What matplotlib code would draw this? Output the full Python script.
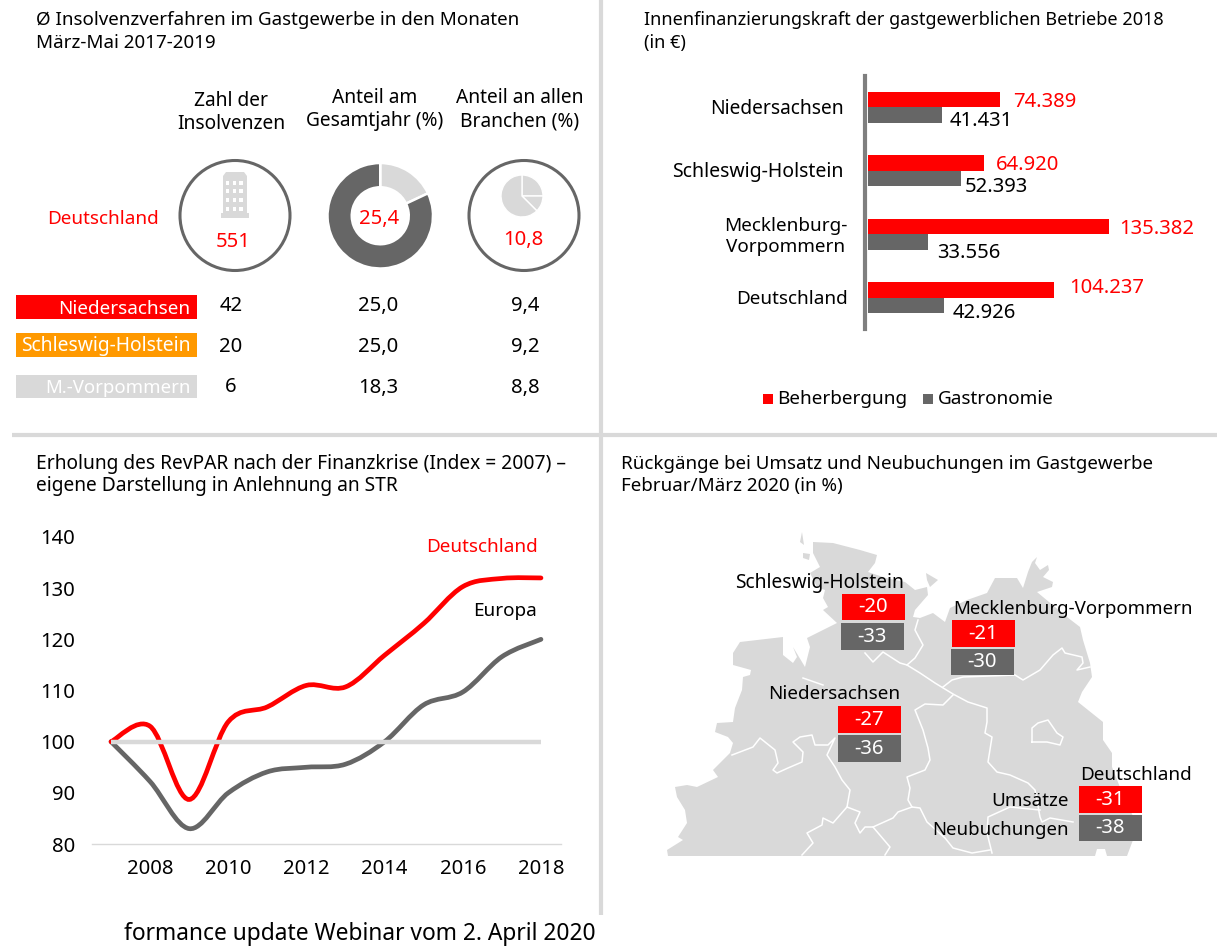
import numpy as np
import matplotlib
matplotlib.use("Agg")
import matplotlib.pyplot as plt
from matplotlib.patches import Rectangle, Circle, Polygon, PathPatch
from matplotlib.path import Path

plt.rcParams['font.family'] = ['Noto Sans', 'DejaVu Sans']

W, H = 1229, 949
RED = '#ff0000'
DARK = '#666666'
LIGHT = '#d9d9d9'
ORANGE = '#ff9900'
FS = 13.6
NUM = 14.6

# panel 1: insolvencies
header_1 = "Zahl der\nInsolvenzen"
header_2 = "Anteil am\nGesamtjahr (%)"
header_3 = "Anteil an allen\nBranchen (%)"
de_count = "551"
de_share_year = "25,4"
de_share_all = "10,8"
donut_shares = [18, 82]
pie_icon_shares = [25, 12.5, 62.5]
states = ["Niedersachsen", "Schleswig-Holstein", "M.-Vorpommern"]
state_colors = [RED, ORANGE, LIGHT]
counts = ["42", "20", "6"]
shares_year = ["25,0", "25,0", "18,3"]
shares_all = ["9,4", "9,2", "8,8"]

# panel 2: bars
bar_labels = ["Niedersachsen", "Schleswig-Holstein", "Mecklenburg-\nVorpommern", "Deutschland"]
beherbergung = [74389, 64920, 135382, 104237]
gastronomie = [41431, 52393, 33556, 42926]

# panel 3: RevPAR lines
years = [2007, 2008, 2009, 2010, 2011, 2012, 2013, 2014, 2015, 2016, 2017, 2018]
revpar_de = [100, 103, 88.7, 103.9, 106.8, 111, 110.7, 116.9, 123.1, 130.3, 131.9, 132]
revpar_eu = [100, 92.2, 83, 90, 94.1, 95, 95.6, 100, 107.2, 109.7, 116.6, 120]
baseline = [100] * 12

# panel 4: map boxes
map_regions = ["Schleswig-Holstein", "Mecklenburg-Vorpommern", "Niedersachsen", "Deutschland"]
umsatz = [-20, -21, -27, -31]
neubuchung = [-33, -30, -36, -38]

# map shape, traced in pixels
map_outline = [(813,542),(833,543),(860,550),(877,555),(875,563),(868,572),(886,578),(905,582),(915,590),(927,587),
    (928,595),(915,610),(913,617),(920,618),(933,613),(945,622),(950,608),(967,600),(987,593),(995,578),(1017,578),
    (1023,588),(1028,572),(1032,562),(1037,557),(1035,563),(1040,570),(1048,565),(1049,570),(1043,577),(1053,582),
    (1052,587),(1037,592),(1067,617),(1080,627),(1083,640),(1090,663),(1092,677),(1082,692),(1078,702),(1103,722),
    (1103,740),(1112,753),(1112,767),(1125,800),(1140,830),(1133,840),(1127,856),(1107,856),(1105,849),(1097,849),
    (1095,856),(668,856),(667,850),(683,840),(678,837),(687,823),(685,810),(677,797),(675,787),(687,785),(697,787),
    (718,777),(713,770),(730,753),(733,743),(728,737),(715,732),(717,723),(733,722),(735,708),(742,690),(743,677),
    (750,675),(751,670),(733,665),(733,653),(740,642),(783,637),(783,655),(793,663),(797,657),(793,647),(805,667),
    (810,647),(807,638),(837,623),(823,610),(828,607),(823,598),(825,590),(817,587),(810,573),(820,567),(813,553)]
map_islands = [
    [(926,573),(938,580),(930,587),(927,580)],
    [(802,532),(804,545),(800,542)],
    [(803,553),(810,554),(809,560),(803,558)],
]
map_borders = [
    [(865,653),(873,662),(883,652),(900,663),(907,665),(920,673),(935,683),(953,694),(968,702),(987,708),(987,722),
     (985,733),(992,737),(988,762),(997,772),(1010,775),(1028,783),(1035,790),(1040,817),(1042,822),(1050,818),(1073,822)],
    [(907,665),(915,658),(923,645),(915,630),(918,620)],
    [(943,687),(952,680),(963,677),(1015,675),(1023,680),(1040,670),(1053,655),(1062,648),(1065,653),(1082,657),
     (1083,663),(1077,670),(1090,667)],
    [(953,695),(943,705),(925,704),(915,710),(923,730),(928,748),(930,760),(925,770),(907,777),(910,788),(908,800),
     (912,807),(920,808),(927,822),(945,838),(953,848),(972,853),(990,850)],
    [(1040,810),(1010,807),(988,817),(987,833),(992,853)],
    [(912,807),(898,812),(893,818),(873,827),(865,827),(860,833),(855,823),(860,812),(847,807),(850,790),(842,780),
     (835,767),(827,755),(835,738),(828,745),(815,745),(812,735),(800,737),(793,742),(803,752),(802,762),(788,768),
     (777,773),(773,770),(778,763),(775,750),(760,738),(753,747),(732,755)],
    [(847,807),(833,823),(823,818),(822,825),(807,833),(813,843),(802,855)],
    [(873,827),(890,847),(885,855)],
    [(1032,742),(1032,728),(1038,723),(1048,720),(1057,733),(1063,737),(1060,745),(1047,742),(1032,742)],
    [(803,678),(823,685)],
]


def px_axes(left, top, right, bottom):
    return fig.add_axes([left / W, 1 - bottom / H, (right - left) / W, (bottom - top) / H])


def smooth_path(xs, ys):
    # same kind of curve as a smoothed office line chart
    pts = np.column_stack([xs, ys])
    verts = [pts[0]]
    codes = [Path.MOVETO]
    for i in range(len(pts) - 1):
        before = pts[max(i - 1, 0)]
        after = pts[min(i + 2, len(pts) - 1)]
        verts += [pts[i] + (pts[i + 1] - before) / 6, pts[i + 1] - (after - pts[i]) / 6, pts[i + 1]]
        codes += [Path.CURVE4] * 3
    return Path(verts, codes)


fig = plt.figure(figsize=(W / 100, H / 100), dpi=100)

# page layer in pixel coordinates
ov = fig.add_axes([0, 0, 1, 1])
ov.set_xlim(0, W)
ov.set_ylim(H, 0)
ov.axis('off')


def label(x, y, s, ha='left', color='black', size=FS, **kw):
    ov.text(x, y + 1.5, s, ha=ha, va='center', color=color, fontsize=size, **kw)


# dividers
ov.plot([601, 601], [0, 915], color=LIGHT, lw=3, solid_capstyle='butt')
ov.plot([12, 1217], [435, 435], color=LIGHT, lw=3, solid_capstyle='butt')

# titles
label(36, 18, "Ø Insolvenzverfahren im Gastgewerbe in den Monaten", size=13.5)
label(36, 41, "März-Mai 2017-2019", size=13.5)
label(644, 18, "Innenfinanzierungskraft der gastgewerblichen Betriebe 2018", size=13)
label(644, 41, "(in €)", size=13)
label(36, 462, "Erholung des RevPAR nach der Finanzkrise (Index = 2007) –", size=13.85)
label(36, 484, "eigene Darstellung in Anlehnung an STR", size=13.85)
label(621, 462, "Rückgänge bei Umsatz und Neubuchungen im Gastgewerbe", size=13.5)
label(621, 484, "Februar/März 2020 (in %)", size=13.5)
label(124, 932, "formance update Webinar vom 2. April 2020", size=16.4)

# panel 1 head
ov.text(231.5, 112.5, header_1, ha='center', va='center', fontsize=13.8, linespacing=1.2)
ov.text(375, 109.5, header_2, ha='center', va='center', fontsize=13.8, linespacing=1.2)
ov.text(520, 109.5, header_3, ha='center', va='center', fontsize=13.8, linespacing=1.2)
label(159, 217, "Deutschland", ha='right', color=RED, size=FS)

for cx in [235, 524]:
    ov.add_patch(Circle((cx, 215.5), 55, fc='white', ec=DARK, lw=2.2))

# building icon
ov.add_patch(Polygon([(223, 176), (226, 172), (244, 172), (247, 176), (247, 214), (223, 214)], fc=LIGHT, ec='none'))
ov.add_patch(Rectangle((221, 213), 28, 4.5, fc=LIGHT, ec='none'))
for wy in [183, 191, 200, 209]:
    for wx in [227.5, 234.5, 241]:
        ov.add_patch(Rectangle((wx - 1.7, wy - 1.7), 3.4, 3.4, fc='white', ec='none'))

label(233, 240, de_count, ha='center', color=RED, size=NUM)
label(523.5, 238, de_share_all, ha='center', color=RED, size=NUM)

# panel 1 table
row_bars = [(295, 319), (333, 357), (375, 398)]
row_text = [307, 345, 386.5]
row_vals = [304.7, 345.3, 386]
state_sizes = [13.6, 13.9, 13.4]
for i in range(3):
    top, bottom = row_bars[i]
    ov.add_patch(Rectangle((16, top), 181, bottom - top, fc=state_colors[i], ec='none'))
    label(190.5, row_text[i], states[i], ha='right', color='white', size=state_sizes[i])
    label(231, row_vals[i], counts[i], ha='center', size=NUM)
    label(378, row_vals[i], shares_year[i], ha='center', size=NUM)
    label(525, row_vals[i], shares_all[i], ha='center', size=NUM)

# donut
ax_d = px_axes(327.5, 163, 433, 268.5)
ax_d.pie(donut_shares, colors=[LIGHT, DARK], startangle=90, counterclock=False, radius=1,
         wedgeprops=dict(width=0.46, edgecolor='white', linewidth=1.8))
ax_d.set_xlim(-1, 1)
ax_d.set_ylim(-1, 1)
ax_d.text(-0.02, -0.06, de_share_year, ha='center', va='center', color=RED, fontsize=NUM)

# small pie icon
ax_i = px_axes(501, 175, 543, 217)
ax_i.pie(pie_icon_shares, colors=[LIGHT] * 3, startangle=90, counterclock=False, radius=1,
         wedgeprops=dict(edgecolor='white', linewidth=1))
ax_i.set_xlim(-1, 1)
ax_i.set_ylim(-1, 1)

# panel 2 bars
bar_left, bar_right = 868, 1200
ax_b = px_axes(bar_left, 75.7, bar_right, 329.3)
ax_b.patch.set_alpha(0)
pos = np.arange(4)
h = 0.242
ax_b.barh(pos - h / 2, beherbergung, height=h, color=RED)
ax_b.barh(pos + h / 2, gastronomie, height=h, color=DARK)
ax_b.set_xlim(0, (bar_right - bar_left) / 0.00178)
ax_b.set_ylim(3.5, -0.5)
ax_b.set_xticks([])
ax_b.set_yticks([])
for s in ['top', 'right', 'bottom']:
    ax_b.spines[s].set_visible(False)
ax_b.spines['left'].set_color('#7f7f7f')
ax_b.spines['left'].set_linewidth(3)
ax_b.spines['left'].set_position(('outward', 2))

label(844, 107.5, bar_labels[0], ha='right', size=13.8)
label(844, 170.5, bar_labels[1], ha='right', size=14)
ov.text(785.5, 236.5, bar_labels[2], ha='center', va='center', fontsize=13.6, linespacing=1.2)
label(848, 297.5, bar_labels[3], ha='right', size=13.6)

red_lab_x = [1013.5, 996, 1119, 1069.5]
red_lab_y = [100, 163.5, 227, 286.5]
dark_lab_x = [950, 964.5, 937.5, 952.5]
dark_lab_y = [119, 185.5, 251.5, 312]
for i in range(4):
    label(red_lab_x[i], red_lab_y[i], f"{beherbergung[i]:,}".replace(",", "."), color=RED, size=NUM)
    label(dark_lab_x[i], dark_lab_y[i], f"{gastronomie[i]:,}".replace(",", "."), size=NUM)

ov.add_patch(Rectangle((763, 394), 10, 10, fc=RED, ec='none'))
label(777.5, 398, "Beherbergung")
ov.add_patch(Rectangle((923, 394), 10, 10, fc=DARK, ec='none'))
label(938, 398, "Gastronomie")

# panel 3 lines
ax_l = px_axes(91.5, 537, 560.5, 844)
ax_l.patch.set_alpha(0)
ax_l.plot(years, baseline, color=LIGHT, lw=3.2, solid_capstyle='butt')
ax_l.add_patch(PathPatch(smooth_path(years, revpar_eu), fc='none', ec=DARK, lw=3.4, capstyle='round'))
ax_l.add_patch(PathPatch(smooth_path(years, revpar_de), fc='none', ec=RED, lw=3.4, capstyle='round'))
ax_l.set_xlim(2006.5, 2018.5)
ax_l.set_ylim(80, 140)
ax_l.set_xticks(years[1::2])
ax_l.set_yticks(range(80, 141, 10))
ax_l.tick_params(length=0, labelsize=NUM, pad=11)
ax_l.tick_params(axis='y', pad=12)
for s in ['top', 'right', 'left']:
    ax_l.spines[s].set_visible(False)
ax_l.spines['bottom'].set_color(LIGHT)
ax_l.spines['bottom'].set_linewidth(1)
label(538, 546, "Deutschland", ha='right', color=RED)
label(536.5, 609.5, "Europa", ha='right', size=13.6)

# panel 4 map
ov.add_patch(Polygon(map_outline, fc=LIGHT, ec='none', zorder=1))
for isl in map_islands:
    ov.add_patch(Polygon(isl, fc=LIGHT, ec='none', zorder=1))
for b in map_borders:
    ov.plot([p[0] for p in b], [p[1] for p in b], color='white', lw=1.1, zorder=2)

box_red_x = [842, 952, 838, 1079]
box_dark_x = [841, 951, 838, 1079]
box_red_y = [(594, 620), (620, 647), (706, 732.5), (786, 812.5)]
box_dark_y = [(623, 649.5), (649, 674.5), (735, 761.5), (815, 840.5)]
for i in range(4):
    top, bottom = box_red_y[i]
    ov.add_patch(Rectangle((box_red_x[i], top), 63, bottom - top, fc=RED, ec='none', zorder=3))
    ov.text(box_red_x[i] + 31, (top + bottom) / 2 + 0.5, str(umsatz[i]), color='white', ha='center', va='center', fontsize=NUM, zorder=4)
    top, bottom = box_dark_y[i]
    ov.add_patch(Rectangle((box_dark_x[i], top), 63, bottom - top, fc=DARK, ec='none', zorder=3))
    ov.text(box_dark_x[i] + 31, (top + bottom) / 2 + 0.5, str(neubuchung[i]), color='white', ha='center', va='center', fontsize=NUM, zorder=4)

label(904, 581.5, map_regions[0], ha='right', zorder=4, size=13.8)
label(953.5, 607.5, map_regions[1], zorder=4, size=13.45)
label(900.5, 692.5, map_regions[2], ha='right', zorder=4, size=13.6)
label(1080, 773.5, map_regions[3], zorder=4, size=13.6)
label(1069, 799.5, "Umsätze", ha='right', zorder=4)
label(1069, 828.5, "Neubuchungen", ha='right', zorder=4, size=13.4)

fig.savefig("out.png", dpi=100)
